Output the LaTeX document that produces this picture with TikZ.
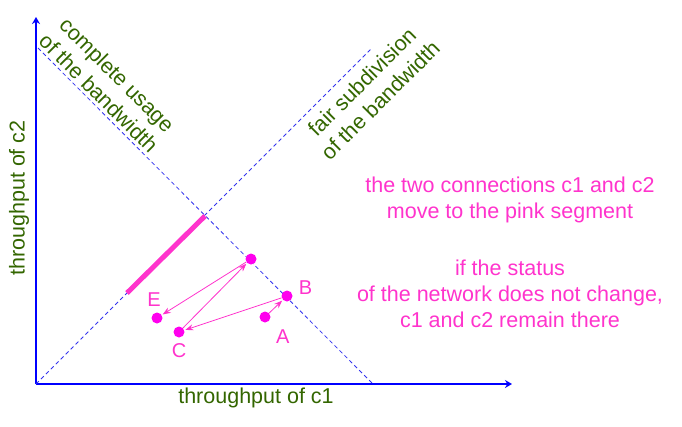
\documentclass[tikz,border=0pt]{standalone}
\usepackage{fontspec}
\setmainfont{Liberation Sans}
\usepackage{xcolor}
\definecolor{cAxis}{HTML}{0000FF}
\definecolor{cGuide}{HTML}{3333EE}
\definecolor{cLabel}{HTML}{336600}
\definecolor{cPink}{HTML}{FF33CC}
\definecolor{cDot}{HTML}{FF00EE}
\usepackage{tikz}
\usetikzlibrary{positioning,arrows.meta}
\tikzset{
  axis/.style={-{Stealth[length=7pt,width=8pt]},line width=2pt,draw=cAxis},
  guide-line/.style={dash pattern=on 4pt off 3pt,line width=0.8pt,draw=cGuide},
  fair-segment/.style={line width=5pt,draw=cPink},
  node-dot/.style={circle,fill=cDot,inner sep=0pt,minimum size=11pt},
  node-pt-label/.style={text=cPink,font=\fontsize{20}{24}\selectfont,inner sep=1pt},
  node-note/.style={text=cLabel,font=\fontsize{21.5}{26}\selectfont,align=center,inner sep=0pt},
  node-pink-note/.style={text=cPink,font=\fontsize{21.5}{26}\selectfont,align=center,inner sep=0pt},
  arrow-move/.style={-{Stealth[length=8pt,width=6pt]},line width=0.8pt,draw=cPink,shorten >=1pt},
}

\begin{document}
\begin{tikzpicture}[x=1pt,y=-1pt]
  \useasboundingbox (0,0) rectangle (682,426);
  % axes
  \coordinate (o) at (36,384);
  \coordinate (x-end) at (512,384);
  \coordinate (y-end) at (36,17);
  \draw[axis] (o) -- (x-end);
  \draw[axis] (o) -- (y-end);
  % the two guide lines
  \coordinate (full-top) at (38,48);
  \coordinate (full-bot) at (373,384);
  \coordinate (fair-top) at (372,48);
  \draw[guide-line] (full-top) -- (full-bot);
  \draw[guide-line] (o) -- (fair-top);
  \coordinate (seg-a) at (127,293);
  \coordinate (seg-b) at (205,216);
  \draw[fair-segment] (seg-a) -- (seg-b);
  % states of c1 and c2
  \node[node-dot] (pa) at (265,317) {};
  \node[node-dot] (pb) at (287,296) {};
  \node[node-dot] (pc) at (179,332) {};
  \node[node-dot] (pd) at (251,259) {};
  \node[node-dot] (pe) at (157,318) {};
  \node[node-pt-label,below right=8pt and 6pt of pa] (lab-a) {A};
  \node[node-pt-label,right=5pt of pb,yshift=8pt] (lab-b) {B};
  \node[node-pt-label,below=5pt of pc] (lab-c) {C};
  \node[node-pt-label,above=5pt of pe,xshift=-3pt] (lab-e) {E};
  \draw[arrow-move] (pa) -- (pb);
  \draw[arrow-move] (pb) -- (pc);
  \draw[arrow-move] (pc) -- (pd);
  \draw[arrow-move] (pd) -- (pe);
  % texts
  \node[node-note] (lab-x) at (256,398) {throughput of c1};
  \node[node-note,rotate=90] (lab-y) at (19,198) {throughput of c2};
  \node[node-note,rotate=-45] (note-full) at (108,84) {complete usage\\of the bandwidth};
  \node[node-note,rotate=45] (note-fair) at (371,91) {fair subdivision\\of the bandwidth};
  \node[node-pink-note] (note-move) at (510,200) {the two connections c1 and c2\\move to the pink segment};
  \node[node-pink-note,below=36pt of note-move] (note-stay) {if the status\\of the network does not change,\\c1 and c2 remain there};
\end{tikzpicture}
\end{document}
